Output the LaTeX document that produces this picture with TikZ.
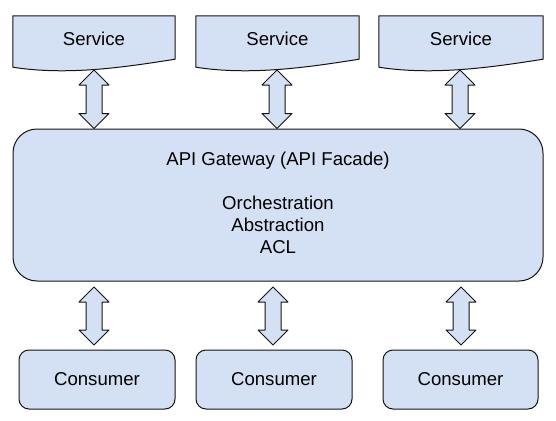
\documentclass[tikz,border=0pt]{standalone}
\usepackage{fontspec}
\setmainfont{Liberation Sans}
\usetikzlibrary{calc}
\definecolor{boxfill}{RGB}{212,224,244}
\definecolor{edge}{RGB}{20,20,20}
\tikzset{
  every node/.style={font=\fontsize{18.6}{22}\selectfont, text=black},
  svcnode/.style={rectangle, minimum width=#1, minimum height=43pt, inner sep=0pt},
  shapeline/.style={draw=edge, fill=boxfill, line width=1pt, line join=round},
  gwnode/.style={shapeline, rectangle, rounded corners=24pt, minimum width=530pt, minimum height=152pt, inner sep=0pt},
  gwtext/.style={align=center},
  consnode/.style={shapeline, rectangle, rounded corners=10pt, minimum width=#1, minimum height=59pt, inner sep=0pt},
  dblarrow/.style={shapeline}
}
\newcommand\docshape[1]{%
  \draw[shapeline] (#1.north west) -- (#1.north east) -- (#1.south east)
    .. controls ($(#1.south east)+(-45,7)$) and ($(#1.south west)+(57,17)$) .. ($(#1.south west)+(0,8)$) -- cycle;}
\newcommand\twoway[2]{%
  \draw[dblarrow] (#1) -- ($(#1)+(15,15)$) -- ($(#1)+(8,15)$) -- ($(#2)+(8,-15)$) -- ($(#2)+(15,-15)$)
    -- (#2) -- ($(#2)+(-15,-15)$) -- ($(#2)+(-8,-15)$) -- ($(#1)+(-8,15)$) -- ($(#1)+(-15,15)$) -- cycle;}
\begin{document}
\begin{tikzpicture}[x=1pt,y=-1pt]
\useasboundingbox (0,0) rectangle (556,420);
% services
\node[svcnode=162pt] (s1) at (94,37.5) {};
\node[svcnode=163pt] (s2) at (277.5,37.5) {};
\node[svcnode=164pt] (s3) at (461,37.5) {};
\docshape{s1}\docshape{s2}\docshape{s3}
\node (s1t) at ($(s1)+(0,1)$) {Service};
\node (s2t) at ($(s2)+(0,1)$) {Service};
\node (s3t) at ($(s3)+(0,1)$) {Service};
% gateway
\node[gwnode] (gw) at (278,205) {};
\node[gwtext] (gwt) at ($(gw)+(0,-2)$) {API Gateway (API Facade)\\[22pt]Orchestration\\Abstraction\\ACL};
% consumers
\node[consnode=156pt] (c1) at (97,379.5) {Consumer};
\node[consnode=156pt] (c2) at (274,379.5) {Consumer};
\node[consnode=155pt] (c3) at (460.5,379.5) {Consumer};
% arrow end points
\coordinate (u1t) at (94,70);  \coordinate (u1b) at (u1t |- gw.north);
\coordinate (u2t) at (277,70); \coordinate (u2b) at (u2t |- gw.north);
\coordinate (u3t) at (460,70); \coordinate (u3b) at (u3t |- gw.north);
\coordinate (l1t) at (94,287);  \coordinate (l1b) at (94,345);
\coordinate (l2t) at (273,287); \coordinate (l2b) at (273,345);
\coordinate (l3t) at (461,287); \coordinate (l3b) at (461,345);
\twoway{u1t}{u1b}\twoway{u2t}{u2b}\twoway{u3t}{u3b}
\twoway{l1t}{l1b}\twoway{l2t}{l2b}\twoway{l3t}{l3b}
\end{tikzpicture}
\end{document}
